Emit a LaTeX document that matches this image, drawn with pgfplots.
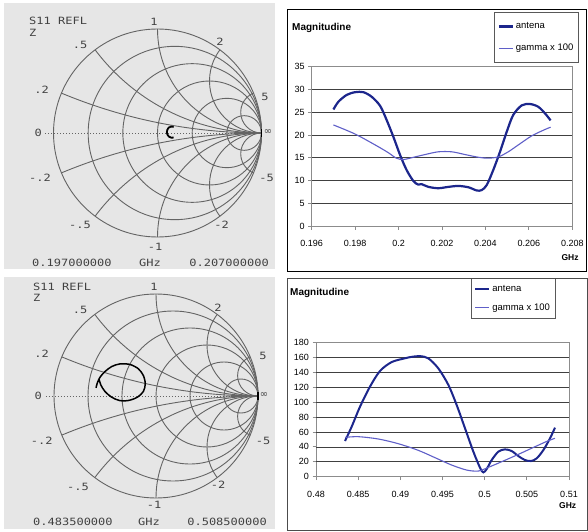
\documentclass[border=0pt]{standalone}
\usepackage{fontspec}
\setmainfont{Liberation Sans}
\newfontfamily\smithfont{DejaVu Sans Mono}
\newfontfamily\symfont{DejaVu Sans}
\usepackage{pgfplots}
\pgfplotsset{compat=1.18}
\definecolor{antena}{RGB}{28,38,140}
\definecolor{gammac}{RGB}{95,95,200}
\definecolor{smithgrid}{RGB}{100,100,100}
\definecolor{smithtext}{RGB}{65,65,65}
\definecolor{panel}{RGB}{230,230,230}

\newcommand{\sm}[1]{\scalebox{1.2}[1]{\smithfont #1}}
\tikzset{
  sg/.style={draw=smithgrid, line width=0.9pt},
  st/.style={text=smithtext, inner sep=0pt, font=\fontsize{10}{10}\selectfont},
}
\pgfplotsset{
  /pgf/number format/assume math mode=true,
  smith/.style={scale only axis, hide axis, clip=false, anchor=center,
    xmin=-1.25, xmax=1.25, ymin=-1.25, ymax=1.25},
  excel/.style={scale only axis, anchor=south west,
    tick pos=left, tick align=outside, major tick length=3.5pt,
    axis line style={black!45, line width=0.8pt},
    tick style={black!45, line width=0.8pt},
    tick label style={font=\fontsize{9}{10}\selectfont},
    grid style={black!75, line width=0.6pt},
    scaled x ticks=false,
    xticklabel style={/pgf/number format/.cd, fixed, precision=3},
    xticklabel shift=7pt,
    legend cell align=left,
    legend image code/.code={\draw[#1] (0pt,0pt) -- (14pt,0pt);},
  },
}

% Smith chart grid, in reflection-coefficient coordinates
\newcommand{\smithgrid}{%
  \begin{scope}
    \clip (axis cs:0,0) circle[radius=1];
    \draw[sg] (axis cs:1,5) circle[radius=5];
    \draw[sg] (axis cs:1,-5) circle[radius=5];
    \draw[sg] (axis cs:1,2) circle[radius=2];
    \draw[sg] (axis cs:1,-2) circle[radius=2];
    \draw[sg] (axis cs:1,1) circle[radius=1];
    \draw[sg] (axis cs:1,-1) circle[radius=1];
    \draw[sg] (axis cs:1,0.5) circle[radius=0.5];
    \draw[sg] (axis cs:1,-0.5) circle[radius=0.5];
    \draw[sg] (axis cs:1,0.2) circle[radius=0.2];
    \draw[sg] (axis cs:1,-0.2) circle[radius=0.2];
  \end{scope}
  \draw[sg] (axis cs:0,0) circle[radius=1];
  \draw[sg] (axis cs:0.16667,0) circle[radius=0.83333];
  \draw[sg] (axis cs:0.33333,0) circle[radius=0.66667];
  \draw[sg] (axis cs:0.5,0) circle[radius=0.5];
  \draw[sg] (axis cs:0.66667,0) circle[radius=0.33333];
  \draw[sg] (axis cs:0.83333,0) circle[radius=0.16667];
  \draw[smithgrid, line width=0.9pt, dash pattern=on 0.9pt off 2.1pt]
    (axis cs:-1.08,0) -- (axis cs:1,0);
  \draw[black, line width=1.5pt] (axis cs:1,-0.035) -- (axis cs:1,0.035);
}

\begin{document}
\begin{tikzpicture}
\fill[white] (0,0) rectangle (588pt,531pt);
\fill[panel] (4pt,262pt) rectangle (275pt,528pt);
\fill[panel] (4pt,2pt) rectangle (275pt,254pt);

% ---------- top Smith chart ----------
\begin{axis}[smith, at={(157.5pt,398pt)}, width=260pt, height=260pt]
\smithgrid
\addplot[black, line width=1.8pt, smooth] coordinates {
  (0.155,0.058) (0.130,0.062) (0.108,0.052) (0.094,0.030) (0.090,0.008)
  (0.095,-0.015) (0.110,-0.035) (0.132,-0.045) (0.155,-0.043)};
\end{axis}

% ---------- bottom Smith chart ----------
\begin{axis}[smith, at={(156pt,135pt)}, width=255pt, height=255pt]
\smithgrid
\addplot[black, line width=1.5pt, smooth] coordinates {
  (-0.588,0.080) (-0.575,0.129) (-0.549,0.184) (-0.500,0.240) (-0.434,0.289)
  (-0.353,0.315) (-0.255,0.309) (-0.173,0.267) (-0.124,0.201) (-0.105,0.120)
  (-0.124,0.044) (-0.183,-0.012) (-0.271,-0.044) (-0.359,-0.044) (-0.434,-0.012)
  (-0.500,0.044) (-0.542,0.110) (-0.559,0.169)};
\end{axis}

% ---------- top magnitude chart ----------
\begin{axis}[excel, at={(311.7pt,305pt)}, width=260.6pt, height=159.3pt,
  xmin=0.196, xmax=0.208, ymin=0, ymax=35,
  xtick={0.196,0.198,0.2,0.202,0.204,0.206,0.208},
  ytick={0,5,...,35},
  extra y ticks={5,10,15,20,25,30},
  extra y tick labels={,,,,,},
  extra y tick style={grid=major, major tick length=0pt},
  legend style={at={(0.7007,1.3415)}, anchor=north west, draw=black!65,
    line width=0.7pt, font=\fontsize{9.5}{10}\selectfont,
    inner xsep=3pt, inner ysep=8pt, row sep=10pt},
]
\addplot[antena, line width=2.2pt, smooth] coordinates {
  (0.19700,25.6) (0.19723,27.3) (0.19761,28.8) (0.19800,29.4) (0.19838,29.4)
  (0.19876,28.4) (0.19915,26.4) (0.19945,23.3) (0.19976,19.6) (0.20007,15.6)
  (0.20037,12.3) (0.20068,9.9) (0.20090,9.1) (0.20106,9.2) (0.20137,8.6)
  (0.20183,8.3) (0.20230,8.6) (0.20276,8.8) (0.20322,8.5) (0.20360,7.8)
  (0.20383,7.9) (0.20406,9.0) (0.20436,12.3) (0.20467,16.3) (0.20498,20.7)
  (0.20528,24.4) (0.20567,26.5) (0.20605,26.8) (0.20643,26.2) (0.20675,24.7)
  (0.20700,23.2)};
\addlegendentry{antena}
\addplot[gammac, line width=1.1pt, smooth] coordinates {
  (0.19700,22.2) (0.19800,20.2) (0.19900,17.6) (0.19953,16.1) (0.19990,14.9)
  (0.20022,14.6) (0.20060,15.0) (0.20122,15.7) (0.20183,16.3) (0.20245,16.3)
  (0.20306,15.7) (0.20368,15.1) (0.20413,14.9) (0.20460,15.2) (0.20505,16.3)
  (0.20551,17.8) (0.20613,19.8) (0.20674,21.2) (0.20700,21.7)};
\addlegendentry{gamma x 100}
\end{axis}

% ---------- bottom magnitude chart ----------
\begin{axis}[excel, at={(316pt,54.3pt)}, width=253pt, height=134.4pt,
  xmin=0.48, xmax=0.51, ymin=0, ymax=180,
  xtick={0.48,0.485,0.49,0.495,0.5,0.505,0.51},
  ytick={0,20,...,180},
  extra y ticks={20,40,60,80,100,120,140,160},
  extra y tick labels={,,,,,,,},
  extra y tick style={grid=major, major tick length=0pt},
  legend style={at={(0.6126,1.4807)}, anchor=north west, draw=black!65,
    line width=0.7pt, font=\fontsize{9.5}{10}\selectfont,
    inner xsep=3pt, inner ysep=5pt, row sep=7pt},
]
\addplot[antena, line width=2pt, smooth] coordinates {
  (0.48344,47.8) (0.48423,67.0) (0.48522,93.8) (0.48640,120.6) (0.48759,141.6)
  (0.48897,153.5) (0.49055,158.6) (0.49134,160.5) (0.49233,161.5) (0.49332,158.5)
  (0.49451,145.0) (0.49570,122.8) (0.49668,96.0) (0.49767,64.8) (0.49866,33.5)
  (0.49945,12.0) (0.49984,5.8) (0.50024,10.3) (0.50083,22.3) (0.50162,33.5)
  (0.50241,36.6) (0.50320,34.4) (0.50399,27.7) (0.50478,22.3) (0.50550,21.0)
  (0.50617,24.6) (0.50696,35.7) (0.50775,51.4) (0.50834,65.7)};
\addlegendentry{antena}
\addplot[gammac, line width=1.1pt, smooth] coordinates {
  (0.48344,52.7) (0.48502,53.6) (0.48739,50.5) (0.48976,44.2) (0.49213,35.3)
  (0.49411,25.5) (0.49609,15.6) (0.49787,8.9) (0.49925,7.6) (0.50043,12.5)
  (0.50202,20.1) (0.50399,29.9) (0.50597,40.2) (0.50755,48.2) (0.50834,51.4)};
\addlegendentry{gamma x 100}
\end{axis}

% ---------- frames and texts of the right charts ----------
\draw[black, line width=0.9pt] (287.5pt,260pt) rectangle (586pt,522pt);
\draw[black!70, line width=0.9pt] (287pt,0.5pt) rectangle (587.5pt,253pt);
\node[anchor=west, inner sep=0pt, font=\bfseries\fontsize{10}{12}\selectfont] at (292pt,503pt) {Magnitudine};
\node[anchor=west, inner sep=0pt, font=\bfseries\fontsize{10}{12}\selectfont] at (290pt,237.7pt) {Magnitudine};
\node[inner sep=0pt, font=\bfseries\fontsize{8.5}{10}\selectfont] at (570pt,273.7pt) {GHz};
\node[inner sep=0pt, font=\bfseries\fontsize{8.5}{10}\selectfont] at (567.7pt,25.3pt) {GHz};

% ---------- texts of the top Smith chart ----------
\node[st, anchor=west] at (29pt,510pt) {\sm{S11 REFL}};
\node[st, anchor=west] at (29pt,498pt) {\sm{Z}};
\node[st] at (154pt,509.3pt) {\sm{1}};
\node[st] at (80pt,486pt) {\sm{.5}};
\node[st] at (220pt,489.3pt) {\sm{2}};
\node[st] at (41.7pt,441pt) {\sm{.2}};
\node[st] at (265pt,434.3pt) {\sm{5}};
\node[st] at (38.3pt,397.7pt) {\sm{0}};
\node[st] at (268pt,399pt) {\symfont ∞};
\node[st] at (40pt,353pt) {\sm{-.2}};
\node[st] at (266.7pt,353pt) {\sm{-5}};
\node[st] at (80pt,306pt) {\sm{-.5}};
\node[st] at (221.7pt,306pt) {\sm{-2}};
\node[st] at (155pt,284.3pt) {\sm{-1}};
\node[st, anchor=west] at (32pt,268pt) {\sm{0.197000000}};
\node[st] at (150pt,268pt) {\sm{GHz}};
\node[st, anchor=east] at (269pt,268pt) {\sm{0.207000000}};

% ---------- texts of the bottom Smith chart ----------
\node[st, anchor=west] at (33pt,244.3pt) {\sm{S11 REFL}};
\node[st, anchor=west] at (33pt,233pt) {\sm{Z}};
\node[st] at (154pt,244.3pt) {\sm{1}};
\node[st] at (80pt,221pt) {\sm{.5}};
\node[st] at (218pt,223pt) {\sm{2}};
\node[st] at (41.7pt,177pt) {\sm{.2}};
\node[st] at (263pt,175.3pt) {\sm{5}};
\node[st] at (38.3pt,135.3pt) {\sm{0}};
\node[st] at (264pt,136pt) {\symfont ∞};
\node[st] at (41.7pt,90pt) {\sm{-.2}};
\node[st] at (263pt,90pt) {\sm{-5}};
\node[st] at (78pt,44.3pt) {\sm{-.5}};
\node[st] at (218pt,46pt) {\sm{-2}};
\node[st] at (154pt,26pt) {\sm{-1}};
\node[st, anchor=west] at (33pt,9.3pt) {\sm{0.483500000}};
\node[st] at (149pt,9.3pt) {\sm{GHz}};
\node[st, anchor=east] at (267pt,9.3pt) {\sm{0.508500000}};

\pgfresetboundingbox
\path[use as bounding box] (0,0) rectangle (588pt,531pt);
\end{tikzpicture}
\end{document}
